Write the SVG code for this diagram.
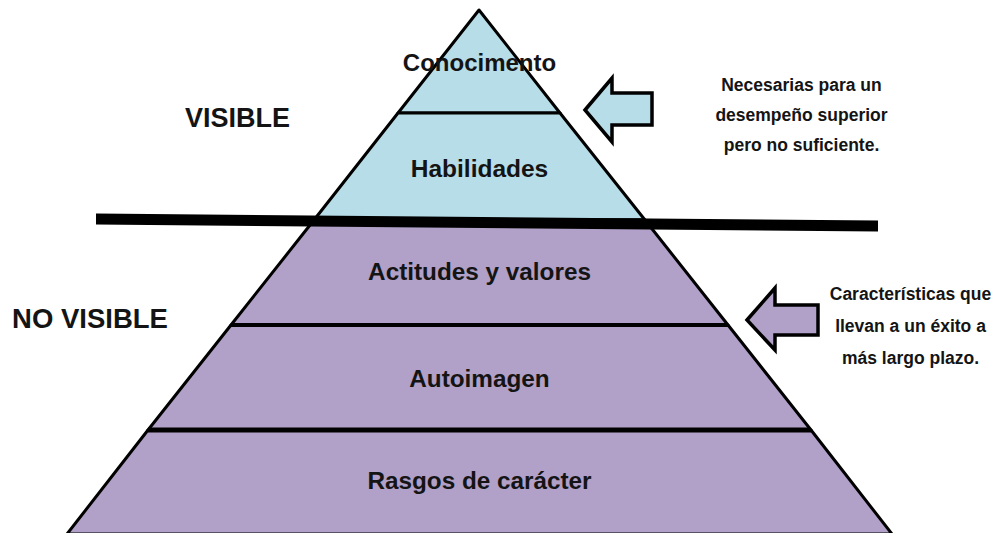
<svg xmlns="http://www.w3.org/2000/svg" width="997" height="533" viewBox="0 0 997 533">
  <style>
    .blue { fill: #b7dde8; stroke: #000; stroke-width: 3; stroke-linejoin: round; }
    .purple { fill: #b1a0c7; stroke: #000; stroke-width: 3; stroke-linejoin: round; }
    .div { stroke: #000; fill: none; }
    .lbl { font-family: "Liberation Sans", Arial, sans-serif; font-weight: bold; fill: #141414; text-anchor: middle; }
    .side { font-family: "Liberation Sans", Arial, sans-serif; font-weight: bold; fill: #141414; text-anchor: middle; font-size: 17.5px; }
    .arrow { stroke: #000; stroke-width: 3.5; stroke-linejoin: miter; }
  </style>
  <rect width="997" height="533" fill="#ffffff"/>

  <g id="layer-conocimiento">
    <polygon class="blue" points="479,10 560,113 398,113"/>
    <text class="lbl" x="479.5" y="71" font-size="24">Conocimento</text>
  </g>
  <g id="layer-habilidades">
    <polygon class="blue" points="398,113 560,113 645,220 314,220"/>
    <text class="lbl" x="479.5" y="177" font-size="24.5">Habilidades</text>
  </g>
  <g id="layer-actitudes">
    <polygon class="purple" points="314,220 645,220 728,325 231,325"/>
    <text class="lbl" x="479.5" y="280" font-size="24.3">Actitudes y valores</text>
  </g>
  <g id="layer-autoimagen">
    <polygon class="purple" points="231,325 728,325 811,430 148,430"/>
    <text class="lbl" x="479.5" y="387" font-size="24.3">Autoimagen</text>
  </g>
  <g id="layer-rasgos">
    <polygon class="purple" points="148,430 811,430 892,534 67,534"/>
    <text class="lbl" x="479.5" y="489" font-size="24.3">Rasgos de carácter</text>
  </g>

  <g id="dividers">
    <line class="div" x1="231" y1="325" x2="728" y2="325" stroke-width="4"/>
    <line class="div" x1="148" y1="430" x2="811" y2="430" stroke-width="5"/>
  </g>

  <g id="visibility-line">
    <polygon points="96,213.5 878,220.5 878,231.5 96,224.5" fill="#000"/>
  </g>

  <g id="label-visible">
    <text class="lbl" x="237.5" y="127" font-size="27">VISIBLE</text>
  </g>
  <g id="label-no-visible">
    <text class="lbl" x="90" y="328" font-size="27.5">NO VISIBLE</text>
  </g>

  <g id="connectors">
    <polygon class="arrow" fill="#b7dde8" points="585,110 612,78 612,93 652,93 652,125 612,125 612,142"/>
    <polygon class="arrow" fill="#b1a0c7" points="747,320 775,288 775,305 818,305 818,335 775,335 775,350"/>
  </g>

  <g id="note-visible">
    <text class="side" x="801.5" y="91">Necesarias para un</text>
    <text class="side" x="801.5" y="121">desempeño superior</text>
    <text class="side" x="801.5" y="151">pero no suficiente.</text>
  </g>
  <g id="note-no-visible">
    <text class="side" x="910.5" y="300">Características que</text>
    <text class="side" x="910.5" y="332">llevan a un éxito a</text>
    <text class="side" x="910.5" y="364">más largo plazo.</text>
  </g>
</svg>
